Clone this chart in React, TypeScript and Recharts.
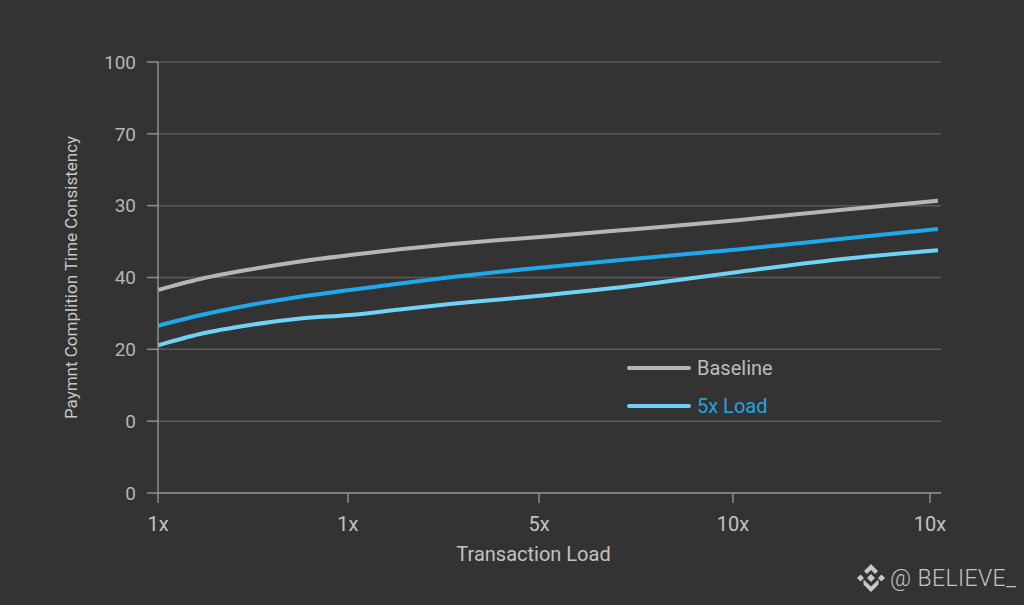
import React from 'react';
import { LineChart, Line, XAxis, YAxis, CartesianGrid, Legend, Label } from 'recharts';

// the axes in the picture are not in numeric order, so values are given in tick steps
const yTickSteps = [0, 1, 2, 3, 4, 5, 6];
const yTickLabels = ['0', '0', '20', '40', '30', '70', '100'];
const xTicks = [0, 0.984, 1.974, 2.979, 4];
const xTickLabels = ['1x', '1x', '5x', '10x', '10x'];

const loadSteps = [0, 0.218, 0.477, 0.736, 0.995, 1.254, 1.513, 1.772, 2.031, 2.497, 3.016, 3.534, 4.041];
const baseline = [2.826, 2.979, 3.112, 3.223, 3.313, 3.393, 3.462, 3.522, 3.574, 3.68, 3.801, 3.94, 4.069];
const load5x = [2.329, 2.474, 2.617, 2.733, 2.826, 2.917, 3.003, 3.081, 3.151, 3.267, 3.393, 3.536, 3.675];
const load5xLight = [2.056, 2.214, 2.339, 2.43, 2.478, 2.555, 2.631, 2.694, 2.761, 2.896, 3.081, 3.254, 3.379];

const legendLabels = ['Baseline', '5x Load'];
const legendSwatches = ['#b5b5b5', '#6fd0f0'];
const legendText = ['#bdbdbd', '#22a5e2'];

const data = loadSteps.map((x, i) => ({
  x,
  baseline: baseline[i],
  load5x: load5x[i],
  load5xLight: load5xLight[i],
}));

const FONT = 'Roboto, sans-serif';
const AXIS = '#8f8f8f';

const renderLegend = () => (
  <div style={{ fontFamily: FONT, fontSize: 20 }}>
    {legendLabels.map((label, i) => (
      <div key={label} style={{ display: 'flex', alignItems: 'center', height: 38 }}>
        <span style={{ width: 64, height: 4, borderRadius: 2, background: legendSwatches[i], marginRight: 6 }} />
        <span style={{ color: legendText[i] }}>{label}</span>
      </div>
    ))}
  </div>
);

const Watermark = () => (
  <div style={{ position: 'absolute', left: 857, top: 563, display: 'flex', alignItems: 'center', color: '#c4c4c4', fontFamily: FONT, fontWeight: 300, fontSize: 23, letterSpacing: 0.4 }}>
    <svg width="28" height="30" viewBox="0 0 28 28" style={{ marginRight: 5 }}>
      <g fill="#c8c8c8">
        <path d="M14 0 L21 7 L18 10 L14 6 L10 10 L7 7 Z" />
        <path d="M14 28 L6.5 20.5 L6.5 15.5 L14 22.5 L21.5 15.5 L21.5 20.5 Z" />
        <path d="M3.5 10.5 L7 14 L3.5 17.5 L0 14 Z" />
        <path d="M24.5 10.5 L28 14 L24.5 17.5 L21 14 Z" />
        <path d="M14 10 L18 14 L14 18 L10 14 Z" />
      </g>
    </svg>
    <span>@ BELIEVE_</span>
  </div>
);

export default function App() {
  return (
    <div style={{ position: 'absolute', left: 0, top: 0, width: 1024, height: 605, background: '#333333', overflow: 'hidden' }}>
      <LineChart width={1024} height={605} data={data} margin={{ top: 62, right: 83, bottom: 62, left: 0 }}>
        <CartesianGrid vertical={false} stroke="#595959" strokeWidth={1.5} />
        <XAxis
          dataKey="x"
          type="number"
          domain={[0, 4.057]}
          ticks={xTicks}
          tickFormatter={(_v, i) => xTickLabels[i]}
          height={50}
          stroke={AXIS}
          strokeWidth={1.5}
          tickSize={10}
          tickMargin={14}
          tick={{ fill: '#c2c2c2', fontSize: 20, fontFamily: FONT }}
        >
          <Label value="Transaction Load" position="bottom" dx={-16} dy={-1} fill="#c2c2c2" fontSize={20} fontFamily={FONT} />
        </XAxis>
        <YAxis
          type="number"
          width={158}
          domain={[0, 6]}
          ticks={yTickSteps}
          tickFormatter={(_v, i) => yTickLabels[i]}
          stroke={AXIS}
          strokeWidth={1.5}
          tickSize={11}
          tickMargin={11}
          tick={{ fill: '#b5b5b5', fontSize: 19, fontFamily: FONT }}
        >
          <Label value="Paymnt Complition Time Consistency" angle={-90} position="insideLeft" textAnchor="middle" dx={66} fill="#c8c8c8" fontSize={17} fontFamily={FONT} />
        </YAxis>
        <Legend content={renderLegend} layout="vertical" align="center" verticalAlign="middle" wrapperStyle={{ left: 627, top: 349, width: 160 }} />
        <Line dataKey="baseline" name="Baseline" type="monotone" stroke="#b5b5b5" strokeWidth={4} dot={false} isAnimationActive={false} />
        <Line dataKey="load5x" name="5x Load" type="monotone" stroke="#1fa8ea" strokeWidth={4} dot={false} isAnimationActive={false} />
        <Line dataKey="load5xLight" name="5x Load light" type="monotone" stroke="#6fd3f3" strokeWidth={4} dot={false} isAnimationActive={false} />
      </LineChart>
      <Watermark />
    </div>
  );
}
